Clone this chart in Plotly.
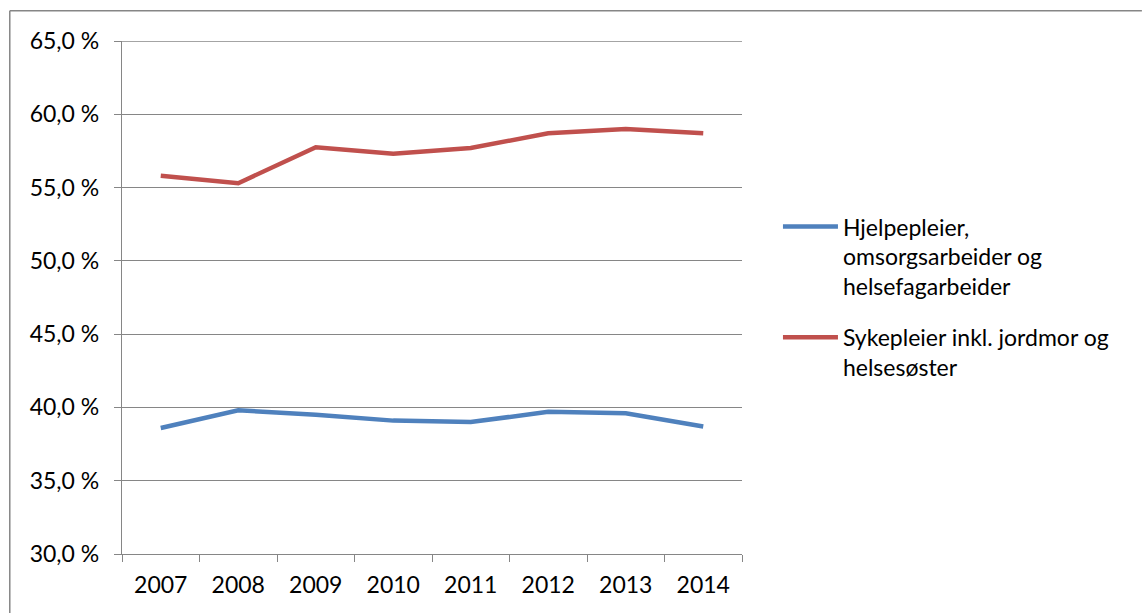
import plotly.graph_objects as go

years = ["2007", "2008", "2009", "2010", "2011", "2012", "2013", "2014"]
hjelpepleier = [38.6, 39.8, 39.5, 39.1, 39.0, 39.7, 39.6, 38.7]
sykepleier = [55.8, 55.3, 57.75, 57.3, 57.7, 58.7, 59.0, 58.7]
y_ticks = [30, 35, 40, 45, 50, 55, 60, 65]
y_labels = ["30,0 %", "35,0 %", "40,0 %", "45,0 %", "50,0 %", "55,0 %", "60,0 %", "65,0 %"]

names = ["Hjelpepleier,<br>omsorgsarbeider og<br>helsefagarbeider",
         "Sykepleier inkl. jordmor og<br>helsesøster"]
colors = ["#4F81BD", "#C0504D"]

grid = "#868686"
font = "Lato"

fig = go.Figure()
for i, (vals, name, col) in enumerate(zip([hjelpepleier, sykepleier], names, colors)):
    fig.add_trace(go.Scatter(x=years, y=vals, mode="lines", name=name,
                             legendgroup=f"g{i}",
                             line=dict(color=col, width=4.5)))

fig.update_layout(
    width=1142, height=613,
    margin=dict(l=122, r=400, t=41, b=59),
    paper_bgcolor="white", plot_bgcolor="white",
    font=dict(family=font, size=23, color="black"),
    showlegend=True,
    legend=dict(x=1.058, y=0.68, xanchor="left", yanchor="top",
                valign="top", itemwidth=55, tracegroupgap=18,
                font=dict(family=font, size=23, color="black")),
    xaxis=dict(type="category", range=[-0.5, 7.5], showgrid=False,
               showline=True, linecolor=grid, linewidth=1.3,
               ticks="outside", tickson="boundaries", ticklen=7,
               tickcolor=grid, tickwidth=1.3, ticklabelstandoff=10),
    yaxis=dict(range=[30, 65], tickvals=y_ticks, ticktext=y_labels,
               showgrid=True, gridcolor=grid, gridwidth=1.3,
               showline=True, linecolor=grid, linewidth=1.3,
               ticks="outside", ticklen=7, tickcolor=grid, tickwidth=1.3,
               zeroline=False, ticklabelstandoff=10),
    shapes=[
        # top gridline (plotly skips the one on the plot edge)
        dict(type="line", xref="paper", yref="y", x0=0, x1=1,
             y0=y_ticks[-1], y1=y_ticks[-1], line=dict(color=grid, width=1.3)),
        # outer chart frame: top and left edges
        dict(type="line", xref="paper", yref="paper", x0=-0.181, x1=1.645,
             y0=1.059, y1=1.059, line=dict(color=grid, width=1.5)),
        dict(type="line", xref="paper", yref="paper", x0=-0.181, x1=-0.181,
             y0=1.059, y1=-0.116, line=dict(color=grid, width=1.5)),
    ],
)

fig.write_html("out.html")
